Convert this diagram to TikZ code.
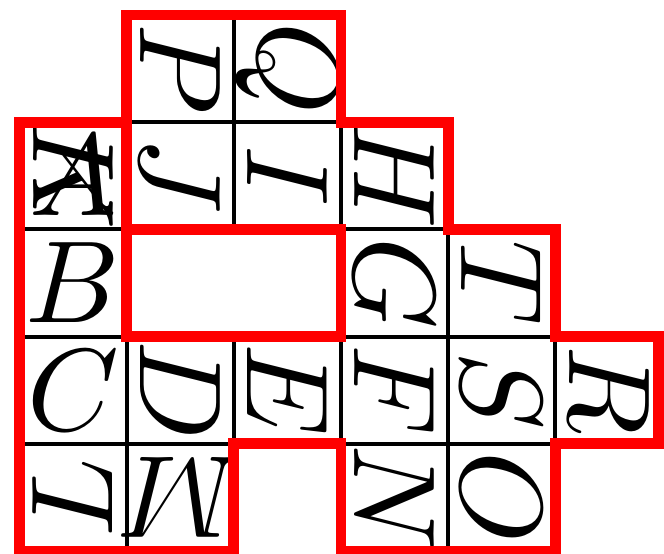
\documentclass[tikz,border=0pt]{standalone}
\begin{document}
\begin{tikzpicture}[x=1cm,y=1cm,
  cellbox/.style={draw=black,line width=1.1pt},
  letter/.style={inner sep=0pt},
  wall/.style={draw=red,line width=2.9pt}]
\useasboundingbox (-0.181,0.140) rectangle (6.013,-5.019);
% cells: letter / column / row / turn
\foreach \l/\c/\r/\a in {P/1/0/-90,Q/2/0/-90,A/0/1/0,K/0/1/-90,J/1/1/-90,I/2/1/-90,H/3/1/-90,
    B/0/2/0,G/3/2/-90,T/4/2/-90,C/0/3/0,D/1/3/-90,E/2/3/-90,F/3/3/-90,S/4/3/-90,R/5/3/-90,
    L/0/4/90,M/1/4/180,N/3/4/-90,O/4/4/-90}{
  \draw[cellbox] (\c,-\r) rectangle ++(1,-1);
  \node[letter,rotate=\a] (cell\l) at (\c+0.5,-\r-0.5) {\scalebox{3.1}{$\l$}};
}
% red walls
\draw[wall] (1,0) -- (3,0) -- (3,-1) -- (4,-1) -- (4,-2) -- (5,-2) -- (5,-3) -- (5.96,-3) -- (5.96,-4)
  -- (5,-4) -- (5,-5) -- (3,-5) -- (3,-4) -- (2,-4) -- (2,-5) -- (0,-5) -- (0,-1) -- (1,-1) -- cycle;
\draw[wall] (1,-1) -- (1,-3) -- (3,-3) -- (3,-2) -- (1,-2);
\end{tikzpicture}
\end{document}
